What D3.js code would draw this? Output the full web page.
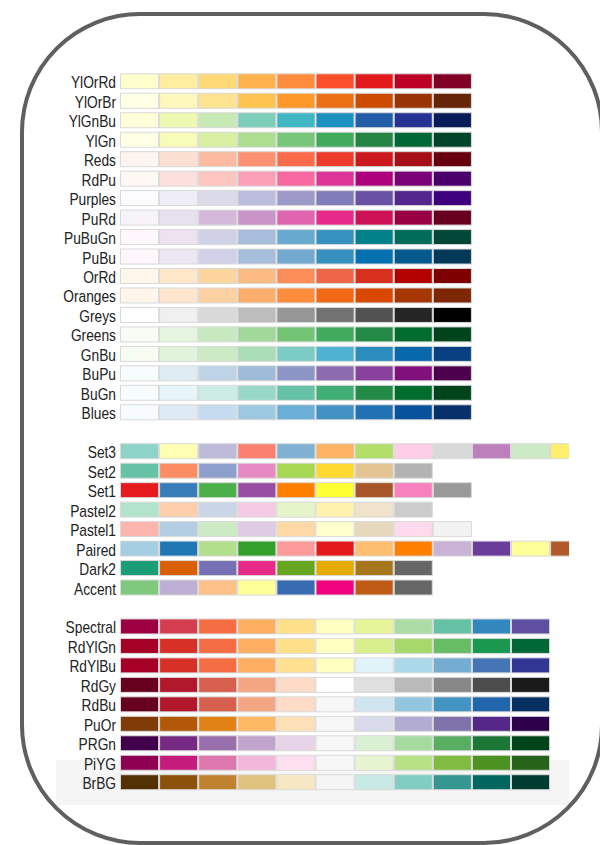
<!DOCTYPE html>
<html>
<head>
<meta charset="utf-8">
<script src="https://cdn.jsdelivr.net/npm/d3@7"></script>
<style>
  body { margin: 0; background: #fff; }
  svg { display: block; }
  .label { font-family: "Liberation Sans", Arial, sans-serif; font-size: 16px; fill: #222; }
</style>
</head>
<body>
<div id="chart"></div>
<script>
// palette groups, top to bottom
const sequential = ['YlOrRd', 'YlOrBr', 'YlGnBu', 'YlGn', 'Reds', 'RdPu', 'Purples', 'PuRd', 'PuBuGn',
  'PuBu', 'OrRd', 'Oranges', 'Greys', 'Greens', 'GnBu', 'BuPu', 'BuGn', 'Blues'];
const qualitative = ['Set3', 'Set2', 'Set1', 'Pastel2', 'Pastel1', 'Paired', 'Dark2', 'Accent'];
const diverging = ['Spectral', 'RdYlGn', 'RdYlBu', 'RdGy', 'RdBu', 'PuOr', 'PRGn', 'PiYG', 'BrBG'];
// number of classes shown for each group
const seqClasses = 9;
const divClasses = 11;
const qualClasses = { Set3: 12, Set2: 8, Set1: 9, Pastel2: 8, Pastel1: 9, Paired: 12, Dark2: 8, Accent: 8 };
// shown in the opposite order to d3's scheme
const reversed = ['PuOr'];

const width = 600, height = 845;

// one blank row between groups
let rows = [];
sequential.forEach(n => rows.push({ name: n, colors: d3['scheme' + n][seqClasses] }));
rows.push(null);
qualitative.forEach(n => rows.push({ name: n, colors: d3['scheme' + n].slice(0, qualClasses[n]) }));
rows.push(null);
diverging.forEach(n => {
  let c = d3['scheme' + n][divClasses].slice();
  if (reversed.includes(n)) c.reverse();
  rows.push({ name: n, colors: c });
});

const yScale = d3.scaleLinear().domain([0, rows.length - 1]).range([73.3, 73.3 + (rows.length - 1) * 19.47]);
const xScale = d3.scaleLinear().domain([0, 12]).range([120, 120 + 12 * 39.1]);
const rowH = 16;

const svg = d3.select('#chart').append('svg')
  .attr('width', width)
  .attr('height', height);

svg.append('defs').append('clipPath').attr('id', 'clip')
  .append('rect').attr('x', 0).attr('y', 0).attr('width', 569).attr('height', height);

// faint band behind the last rows
svg.append('rect')
  .attr('x', 56).attr('y', 760).attr('width', 513).attr('height', 45)
  .attr('fill', '#f5f5f5');

const palettes = svg.append('g').attr('clip-path', 'url(#clip)')
  .selectAll('g')
  .data(rows.map((r, i) => r && { ...r, i }).filter(d => d))
  .join('g')
  .attr('transform', d => `translate(0,${yScale(d.i)})`);

palettes.selectAll('rect')
  .data(d => d.colors)
  .join('rect')
  .attr('x', (c, j) => xScale(j) + 0.5)
  .attr('y', 0.5)
  .attr('width', xScale(1) - xScale(0) - 1)
  .attr('height', rowH - 1)
  .attr('fill', c => c)
  .attr('stroke', '#d9d9d9')
  .attr('stroke-width', 1);

palettes.append('text')
  .attr('class', 'label')
  .attr('text-anchor', 'end')
  .attr('transform', 'translate(116,15) scale(0.86,1)')
  .text(d => d.name);

// rounded frame
svg.append('rect')
  .attr('x', 22).attr('y', 14)
  .attr('width', 580).attr('height', 829)
  .attr('rx', 118).attr('ry', 118)
  .attr('fill', 'none')
  .attr('stroke', '#5f5f5f')
  .attr('stroke-width', 4);
</script>
</body>
</html>
